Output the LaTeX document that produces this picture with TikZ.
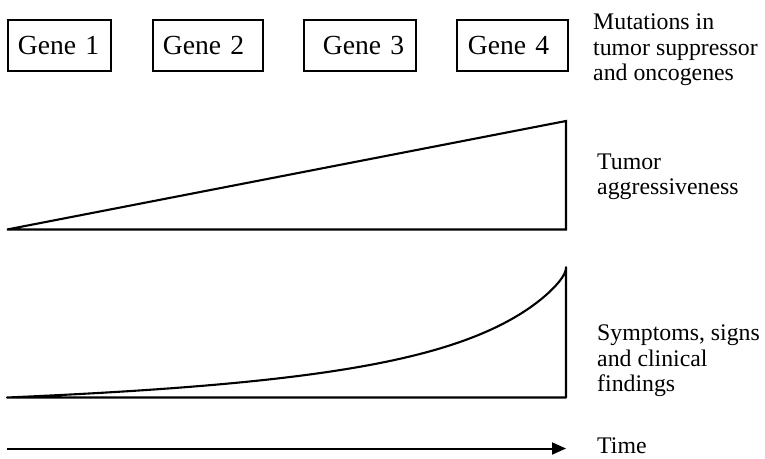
\documentclass[tikz,border=0pt]{standalone}
\usepackage{fontspec}
\setmainfont{Liberation Serif}
\usetikzlibrary{arrows.meta}

\tikzset{
  gene/.style={draw, line width=1.9pt, inner xsep=0pt, inner ysep=0pt,
    minimum height=51pt, align=left, anchor=north west,
    font=\fontsize{27.6}{30}\selectfont},
  sidelabel/.style={anchor=north west, inner sep=0pt, align=left,
    font=\fontsize{23.8}{25.3}\selectfont},
  curve/.style={line width=2.1pt, line join=round},
}

\begin{document}
\begin{tikzpicture}[x=1pt, y=-1pt]
  \useasboundingbox (0,0) rectangle (765,458);

  % Mutated genes
  \node[gene, text width=103pt] (g1) at (7,19)   {\hspace*{10pt}Gene 1};
  \node[gene, text width=110pt] (g2) at (152,19) {\hspace*{10pt}Gene 2};
  \node[gene, text width=112pt] (g3) at (303,19) {\hspace*{19pt}Gene 3};
  \node[gene, text width=111pt] (g4) at (456,19) {\hspace*{11pt}Gene 4};

  % Aggressiveness grows linearly
  \coordinate (t0) at (7,229.5);
  \coordinate (t1) at (566,121);
  \coordinate (t2) at (566,229.5);
  \draw[curve, line join=miter] (t0) -- (t1) -- (t2) -- cycle;

  % Clinical findings grow slowly, then steeply; the parameter s slows x
  % down at the end so that the curve meets the edge with a vertical tangent
  \coordinate (s0) at (7,397.5);
  \coordinate (s2) at (566,397.5);
  \draw[curve] (s0)
    plot[domain=0:1, samples=300, variable=\s]
      ({7+559*(1-(1-\s)*(1-\s))},
       {397.5-120.5*((1/(0.25+(1-\s)*(1-\s))-0.8)/3.2)-10*pow(\s,12)})
    -- (s2) -- cycle;

  % Time axis
  \coordinate (a0) at (7,448.5);
  \coordinate (a1) at (566,448.5);
  \draw[line width=2pt, -{Triangle[length=14pt,width=12pt]}] (a0) -- (a1);

  % Row labels
  \node[sidelabel] (lmut) at (593,14) {Mutations in\\tumor suppressor\\and oncogenes};
  \node[sidelabel] (ltum) at (597,153.5) {Tumor\\aggressiveness};
  \node[sidelabel] (lsym) at (597,325) {Symptoms, signs\\and clinical\\findings};
  \node[sidelabel] (ltime) at (597,438) {Time};
\end{tikzpicture}
\end{document}
